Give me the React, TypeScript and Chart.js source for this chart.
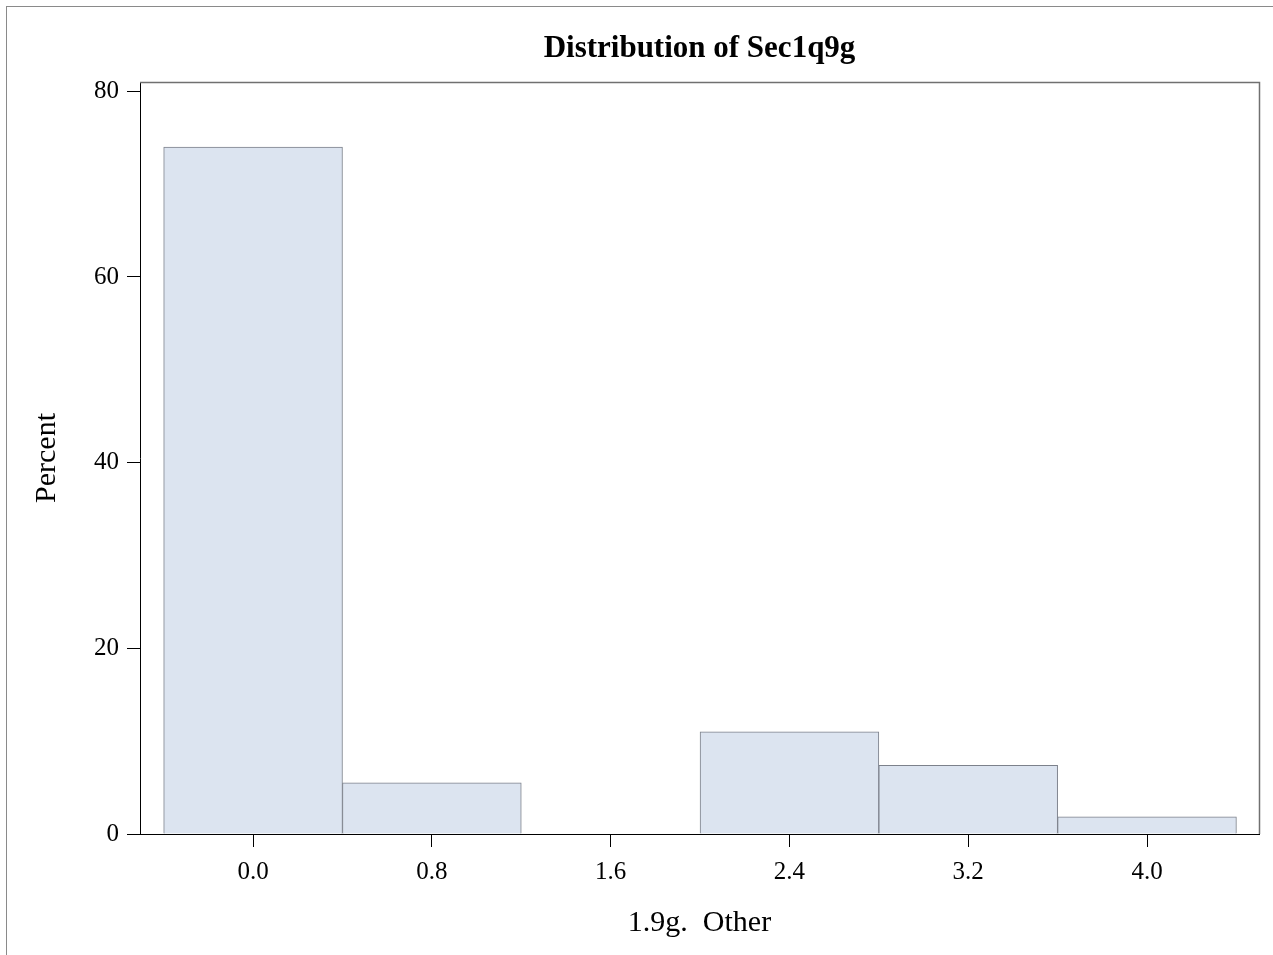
import React, { useEffect, useRef } from "react";
import { Chart, registerables } from "chart.js";

Chart.register(...registerables);

const binCenters = [0.0, 0.8, 1.6, 2.4, 3.2, 4.0];
const percents = [74.0, 5.5, 0, 11.0, 7.4, 1.85];
const xTickValues = [0.0, 0.8, 1.6, 2.4, 3.2, 4.0];
const yTickValues = [0, 20, 40, 60, 80];
const chartTitle = "Distribution of Sec1q9g";
const xAxisTitle = "1.9g.  Other";
const yAxisTitle = "Percent";

const FONT = "'Liberation Serif', 'Times New Roman', serif";

const framePlugin = {
  id: "framePlugin",
  beforeDraw(chart: any) {
    const ctx = chart.ctx;
    ctx.save();
    ctx.fillStyle = "#ffffff";
    ctx.fillRect(0, 0, chart.width, chart.height);
    ctx.strokeStyle = "#8a8a8a";
    ctx.lineWidth = 1;
    ctx.strokeRect(6.5, 6.5, chart.width + 10, chart.height + 10);
    ctx.restore();
  },
  afterDraw(chart: any) {
    const { left, right, top, bottom } = chart.chartArea;
    const ctx = chart.ctx;
    ctx.save();
    ctx.strokeStyle = "#707070";
    ctx.lineWidth = 1.5;
    ctx.beginPath();
    ctx.moveTo(left, top + 0.5);
    ctx.lineTo(right + 0.5, top + 0.5);
    ctx.lineTo(right + 0.5, bottom);
    ctx.stroke();
    // title centred over the plot area
    ctx.fillStyle = "#000";
    ctx.font = `bold 31px ${FONT}`;
    ctx.textAlign = "center";
    ctx.textBaseline = "alphabetic";
    ctx.fillText(chartTitle, (left + right) / 2, 57);
    ctx.restore();
  },
};

export default function App() {
  const ref = useRef<HTMLCanvasElement | null>(null);

  useEffect(() => {
    if (!ref.current) return;
    const chart = new Chart(ref.current, {
      type: "bar",
      data: {
        datasets: [
          {
            data: binCenters.map((x, i) => ({ x, y: percents[i] })),
            backgroundColor: "#dce4f0",
            borderColor: "#7c818b",
            borderWidth: 1,
            borderSkipped: "start",
            barPercentage: 1,
            categoryPercentage: 1,
          },
        ],
      },
      options: {
        responsive: false,
        animation: false,
        devicePixelRatio: 1,
        layout: { padding: { left: 0, right: 14, top: 82, bottom: 0 } },
        plugins: {
          legend: { display: false },
          tooltip: { enabled: false },
          title: { display: false },
        },
        scales: {
          x: {
            type: "linear",
            min: -0.506,
            max: 4.501,
            offset: false,
            afterBuildTicks: (s: any) => {
              s.ticks = xTickValues.map((v) => ({ value: v }));
            },
            afterFit: (s: any) => {
              s.height = 121;
            },
            grid: {
              offset: false,
              drawOnChartArea: false,
              drawTicks: true,
              tickLength: 13,
              tickColor: "#000",
              color: "#000",
            },
            border: { display: true, color: "#000", width: 1 },
            ticks: {
              color: "#000",
              font: { family: FONT, size: 25 },
              padding: 10,
              maxRotation: 0,
              autoSkip: false,
              callback: (v: any) => Number(v).toFixed(1),
            },
            title: {
              display: true,
              text: xAxisTitle,
              color: "#000",
              font: { family: FONT, size: 30 },
              padding: { top: 0, bottom: 14 },
            },
          },
          y: {
            type: "linear",
            min: 0,
            max: 81,
            afterBuildTicks: (s: any) => {
              s.ticks = yTickValues.map((v) => ({ value: v }));
            },
            afterFit: (s: any) => {
              s.width = 140;
            },
            grid: {
              drawOnChartArea: false,
              drawTicks: true,
              tickLength: 13,
              tickColor: "#000",
              color: "#000",
            },
            border: { display: true, color: "#000", width: 1 },
            ticks: {
              color: "#000",
              font: { family: FONT, size: 25 },
              padding: 8,
              callback: (v: any) => String(v),
            },
            title: {
              display: true,
              text: yAxisTitle,
              color: "#000",
              font: { family: FONT, size: 30 },
              padding: { top: 29.5, bottom: 0 },
            },
          },
        },
      } as any,
      plugins: [framePlugin],
    });
    return () => chart.destroy();
  }, []);

  return (
    <div style={{ position: "absolute", left: 0, top: 0, width: 1273, height: 955 }}>
      <canvas ref={ref} width={1273} height={955} style={{ display: "block" }} />
    </div>
  );
}
